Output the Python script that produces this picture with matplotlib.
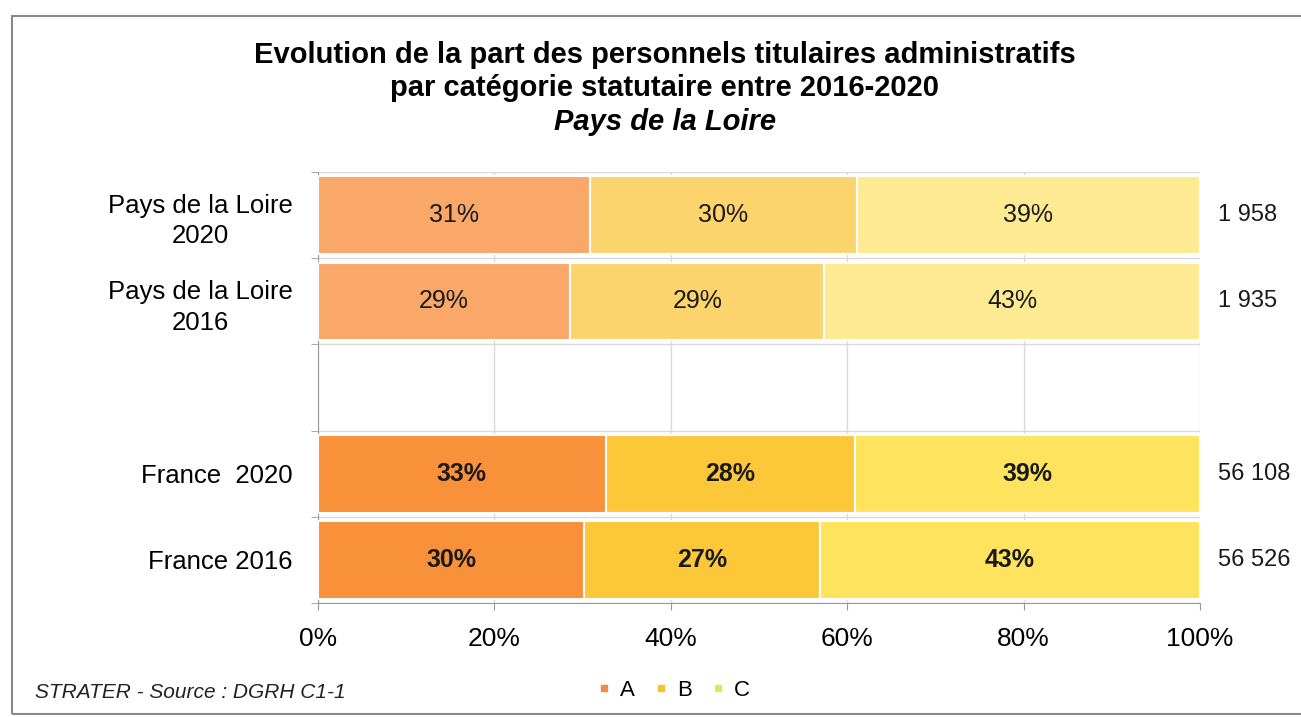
import matplotlib.pyplot as plt
from matplotlib.patches import Rectangle
from matplotlib.lines import Line2D
import numpy as np

plt.rcParams['font.family'] = ['Liberation Sans', 'DejaVu Sans']

rows = ['Pays de la Loire\n2020', 'Pays de la Loire\n2016', '', 'France  2020', 'France 2016']
cat_a = [30.8, 28.6, 0, 32.6, 30.2]
cat_b = [30.3, 28.8, 0, 28.3, 26.7]
cat_c = [38.9, 42.6, 0, 39.1, 43.1]
effectifs = ['1 958', '1 935', '', '56 108', '56 526']
bold_rows = [False, False, False, True, True]

light = ['#F9A86A', '#FCD46E', '#FEEA93']
strong = ['#F8913A', '#FCC83A', '#FEE45E']

fig = plt.figure(figsize=(13.01, 7.17), dpi=100)
ax = fig.add_axes([0.2444, 0.159, 0.678, 0.601])

y = np.arange(len(rows))
series = [cat_a, cat_b, cat_c]
left = np.zeros(len(rows))
for k, vals in enumerate(series):
    vals = np.array(vals, dtype=float)
    for i in range(len(rows)):
        if vals[i] == 0:
            continue
        col = strong[k] if bold_rows[i] else light[k]
        ax.barh(y[i], vals[i], left=left[i], height=0.9, color=col,
                edgecolor='white', linewidth=1.5, zorder=3)
        ax.text(left[i] + vals[i] / 2, y[i], f'{vals[i]:.0f}%', ha='center', va='center',
                fontsize=18, fontweight='bold' if bold_rows[i] else 'normal',
                color='#1a1a1a', zorder=4)
    left += vals

for i, t in enumerate(effectifs):
    ax.text(1.02, y[i], t, transform=ax.get_yaxis_transform(), ha='left', va='center',
            fontsize=17, color='#1a1a1a')

ax.set_xlim(0, 100)
ax.set_ylim(4.5, -0.5)
ax.set_xticks(np.arange(0, 101, 20))
ax.set_xticklabels([f'{v}%' for v in range(0, 101, 20)], fontsize=19)
ax.set_yticks(y)
ax.set_yticklabels(rows, fontsize=18.5, multialignment='center', linespacing=1.35)
ax.set_yticks(np.arange(-0.5, 5, 1), minor=True)
ax.tick_params(axis='y', which='major', length=0, pad=18)
ax.tick_params(axis='y', which='minor', length=5, color='#999999')
ax.tick_params(axis='x', length=5, color='#999999', pad=12)
ax.grid(axis='x', color='#d9d9d9', linewidth=1, zorder=0)
ax.grid(axis='y', which='minor', color='#d9d9d9', linewidth=1, zorder=0)
for s in ['top', 'right']:
    ax.spines[s].set_visible(False)
for s in ['left', 'bottom']:
    ax.spines[s].set_color('#999999')

# titre sur trois lignes
fig.text(0.511, 1 - 55 / 717, 'Evolution de la part des personnels titulaires administratifs',
         ha='center', va='center', fontsize=21, fontweight='bold')
fig.text(0.511, 1 - 88 / 717, 'par catégorie statutaire entre 2016-2020',
         ha='center', va='center', fontsize=21, fontweight='bold')
fig.text(0.511, 1 - 122 / 717, 'Pays de la Loire', ha='center', va='center',
         fontsize=21, fontweight='bold', style='italic')

fig.text(0.027, 1 - 693 / 717, 'STRATER - Source : DGRH C1-1', ha='left', va='center',
         fontsize=15, style='italic', color='#222222')

handles = [Line2D([], [], marker='s', linestyle='none', markersize=5, color=c)
           for c in ['#F08A45', '#F8C232', '#E2E65E']]
fig.legend(handles, ['A', 'B', 'C'], loc='center', bbox_to_anchor=(0.517, 1 - 690 / 717), ncol=3,
           frameon=False, fontsize=16, handlelength=0.8, handletextpad=0.3, columnspacing=0.8)

fig.add_artist(Rectangle((12 / 1301, 3 / 717), 1.1, (717 - 19) / 717, transform=fig.transFigure,
                         fill=False, edgecolor='#8a8a8a', linewidth=1.5))

fig.savefig('out.png', dpi=100)
